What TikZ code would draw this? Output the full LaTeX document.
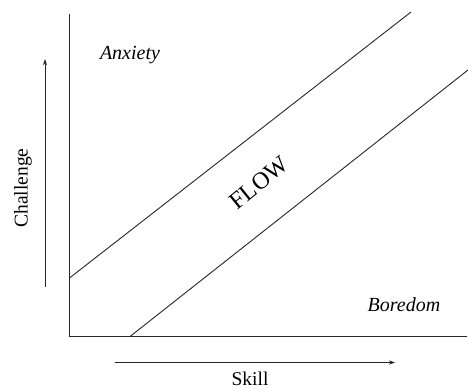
\documentclass[tikz,border=0pt]{standalone}
\usepackage{fontspec}
\setmainfont{Liberation Serif}
\usetikzlibrary{arrows.meta}
\begin{document}
\begin{tikzpicture}[x=1pt,y=1pt,
  ln/.style={line width=0.9pt,draw=black!85},
  arr/.style={ln,-{Stealth[length=6pt,width=4pt]}},
  lbl/.style={inner sep=0pt,font=\fontsize{19.5}{22}\selectfont},
  ilbl/.style={lbl,font=\fontsize{20}{22}\selectfont\itshape}]
\useasboundingbox (0,0) rectangle (468,389);
% axes
\coordinate (top) at (69.5,375);
\coordinate (origin) at (69.5,52.5);
\coordinate (right) at (467,52.5);
\draw[ln] (top) -- (origin) -- (right);
% flow channel boundaries
\coordinate (u1) at (69.5,111);
\coordinate (u2) at (411,377);
\coordinate (l1) at (130,52.5);
\coordinate (l2) at (468,319);
\draw[ln] (u1) -- (u2);
\draw[ln] (l1) -- (l2);
% axis arrows
\coordinate (ca) at (45,102);
\coordinate (cb) at (45,330);
\draw[arr] (ca) -- (cb);
\coordinate (sa) at (115,26.5);
\coordinate (sb) at (395,26.5);
\draw[arr] (sa) -- (sb);
% labels
\node[lbl,rotate=90] (challenge) at (23,201) {Challenge};
\node[lbl] (skill) at (250,10) {Skill};
\node[ilbl] (anxiety) at (130,334) {Anxiety};
\node[ilbl] (boredom) at (404,84) {Boredom};
\node[lbl,font=\fontsize{24}{28}\selectfont,rotate=39] (flow) at (259,206) {FLOW};
\end{tikzpicture}
\end{document}
